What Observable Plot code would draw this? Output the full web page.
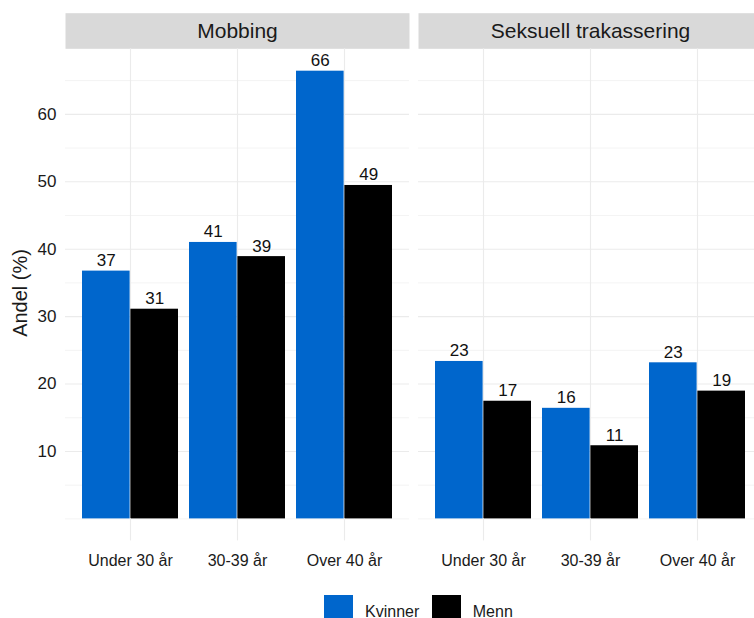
<!DOCTYPE html>
<html>
<head>
<meta charset="utf-8">
<script src="https://cdn.jsdelivr.net/npm/d3@7"></script>
<script src="https://cdn.jsdelivr.net/npm/@observablehq/plot@0.6"></script>
<style>
  html, body { margin: 0; padding: 0; background: #fff; overflow: hidden; }
  #wrap { width: 754px; height: 618px; overflow: hidden; position: relative; }
  #wrap svg { max-width: none !important; display: block; }
  #legend { display: flex; align-items: center; margin-top: 15px; padding-left: 324px;
            font-family: "Liberation Sans", Arial, sans-serif; font-size: 16px; color: #1a1a1a; }
  #legend .key { width: 29px; height: 29px; display: inline-block; }
</style>
</head>
<body>
<div id="wrap"><div id="chart"></div><div id="legend"></div></div>
<script>
// ---- data ----
const panels = ["Mobbing", "Seksuell trakassering"];
const ages = ["Under 30 år", "30-39 år", "Over 40 år"];
const genders = ["Kvinner", "Menn"];
const colors = ["#0066CC", "#000000"];
const mobbingKvinner = [36.75, 41.0, 66.4];
const mobbingMenn = [31.1, 38.9, 49.45];
const seksuellKvinner = [23.35, 16.4, 23.15];
const seksuellMenn = [17.45, 10.85, 18.95];
const yTicks = [10, 20, 30, 40, 50, 60];
const yMinor = [0, 5, 15, 25, 35, 45, 55, 65];
const yLabel = "Andel (%)";

const series = [
  [panels[0], genders[0], mobbingKvinner],
  [panels[0], genders[1], mobbingMenn],
  [panels[1], genders[0], seksuellKvinner],
  [panels[1], genders[1], seksuellMenn]
];
const rows = series.flatMap(([panel, gender, vals]) =>
  vals.map((value, i) => ({panel, gender, age: ages[i], value})));
const kv = rows.filter(d => d.gender === genders[0]);
const mn = rows.filter(d => d.gender === genders[1]);

// ---- layout ----
const W = 763, H = 580, mL = 65, mR = 0.5, mT = 48.3, mB = 61.6;
const panelW = 344;
const bw = panelW / 3.2 * 0.9;   // band width of one age group
const half = bw / 2;
const grid = "#ebebeb";
const txt = "#1a1a1a";

const chart = Plot.plot({
  width: W, height: H,
  marginLeft: mL, marginRight: mR, marginTop: mT, marginBottom: mB,
  style: {fontFamily: "'Liberation Sans', Arial, sans-serif", fontSize: "16px", background: "white", color: txt},
  fx: {domain: panels, padding: 0.0269, axis: null},
  x: {domain: ages, paddingInner: 0.1, paddingOuter: 0.15, axis: null},
  y: {domain: [0, 69.72], axis: null},
  color: {domain: genders, range: colors},
  marks: [
    // strip
    Plot.frame({fill: "#d9d9d9", stroke: null, insetTop: -(mT - 12.7), insetBottom: H - mT - mB}),
    Plot.text(panels, {fx: d => d, text: d => d, frameAnchor: "top", lineAnchor: "middle", dy: -17.8, fontSize: 21, fill: txt}),
    // grid
    Plot.ruleY(yMinor, {y: d => d, stroke: grid, strokeWidth: 0.6}),
    Plot.ruleY(yTicks, {y: d => d, stroke: grid, strokeWidth: 1.1}),
    Plot.ruleX(ages, {x: d => d, stroke: grid, strokeWidth: 1.1}),
    // bars
    Plot.barY(kv, {fx: "panel", x: "age", y: "value", fill: "gender", insetRight: half}),
    Plot.barY(mn, {fx: "panel", x: "age", y: "value", fill: "gender", insetLeft: half}),
    // labels
    Plot.text(kv, {fx: "panel", x: "age", y: "value", text: d => Math.round(d.value), dx: -half / 2, dy: -5, lineAnchor: "bottom", fontSize: 17, fill: "#111"}),
    Plot.text(mn, {fx: "panel", x: "age", y: "value", text: d => Math.round(d.value), dx: half / 2, dy: -5, lineAnchor: "bottom", fontSize: 17, fill: "#111"}),
    // axes
    Plot.axisX({tickSize: 22, tickPadding: 14, fontSize: 16, stroke: grid, strokeWidth: 1.1, fill: txt, label: null}),
    Plot.axisY({ticks: yTicks, tickSize: 0, tickPadding: 9, fontSize: 17, fill: txt, label: null}),
    Plot.text([yLabel], {fx: () => panels[0], text: d => d, frameAnchor: "left", rotate: -90, dx: -45, dy: 53, fontSize: 20, fill: txt})
  ]
});
document.getElementById("chart").appendChild(chart);

// ---- legend ----
const legend = document.getElementById("legend");
genders.forEach((g, i) => {
  const key = document.createElement("span");
  key.className = "key";
  key.style.background = colors[i];
  if (i > 0) key.style.marginLeft = "12.5px";
  const lab = document.createElement("span");
  lab.textContent = g;
  lab.style.marginLeft = "12px";
  lab.style.position = "relative";
  lab.style.top = "2px";
  legend.appendChild(key);
  legend.appendChild(lab);
});
</script>
</body>
</html>
